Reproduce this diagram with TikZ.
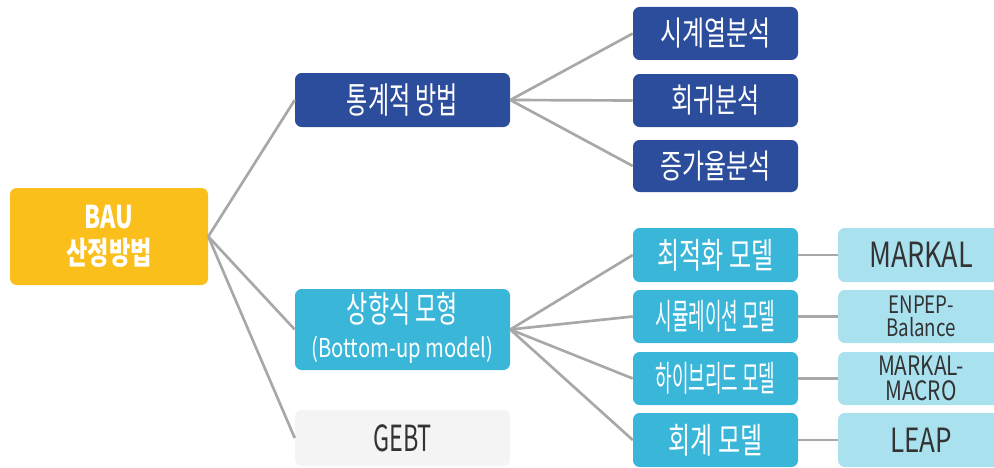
\documentclass[tikz,border=0pt]{standalone}
\usepackage{fontspec}
\setmainfont{Noto Sans CJK KR}
\newfontfamily\krA[FakeStretch=0.72]{Noto Sans CJK KR}
\newfontfamily\krB[FakeStretch=0.64]{Noto Sans CJK KR}
\newfontfamily\krC[FakeStretch=0.68]{Noto Sans CJK KR}
\newfontfamily\krD[FakeStretch=0.51]{Noto Sans CJK KR}
\newfontfamily\krE[FakeStretch=0.74]{Noto Sans CJK KR}
\newfontfamily\latA[FakeStretch=0.78]{Noto Sans CJK KR}
\newfontfamily\latB[FakeStretch=0.65]{Noto Sans CJK KR}
\definecolor{cyel}{HTML}{FBBF1C}
\definecolor{cdark}{HTML}{2C4D9B}
\definecolor{cmid}{HTML}{3AB6D9}
\definecolor{clight}{HTML}{A9E1EF}
\definecolor{cgray}{HTML}{F4F4F4}
\definecolor{cline}{HTML}{A8A8A8}
\definecolor{ctext}{HTML}{333333}
\tikzset{
  box/.style={rounded corners=5pt, inner sep=0pt, align=center},
  darkbox/.style={box, fill=cdark, text=white},
  midbox/.style={box, fill=cmid, text=white},
  lightbox/.style={box, fill=clight, text=ctext},
  lbl/.style={inner sep=0pt, text=white},
  conn/.style={draw=cline, line width=2pt},
}
\begin{document}
\begin{tikzpicture}[x=0.75pt,y=-0.75pt]
\useasboundingbox (0,0) rectangle (994,467);
% root
\node[box, fill=cyel, text=white, minimum width=148.5pt, minimum height=72.75pt,
  font=\krE\bfseries\fontsize{23.5pt}{27pt}\selectfont] (bau) at (109,236.5) {BAU\\산정방법};
% level 1
\node[darkbox, minimum width=161.25pt, minimum height=40.5pt,
  font=\krB\fontsize{27pt}{29pt}\selectfont] (stat) at (402.5,100) {통계적 방법};
\node[midbox, minimum width=161.25pt, minimum height=60.75pt] (bu) at (402.5,329.5) {};
\node[lbl, font=\krB\fontsize{27pt}{29pt}\selectfont] (bu1) at (402.5,309) {상향식 모형};
\node[lbl, font=\latA\fontsize{19.5pt}{21pt}\selectfont] (bu2) at (402.5,350) {(Bottom-up model)};
\node[box, fill=cgray, text=ctext, minimum width=161.25pt, minimum height=42pt,
  font=\latB\fontsize{27pt}{29pt}\selectfont] (gebt) at (402.5,438) {GEBT};
% level 2 (statistical)
\node[darkbox, minimum width=123.75pt, minimum height=39.75pt,
  font=\krA\fontsize{25pt}{27pt}\selectfont] (ts) at (715.5,33.5) {시계열분석};
\node[darkbox, minimum width=123.75pt, minimum height=39.75pt,
  font=\krA\fontsize{25pt}{27pt}\selectfont] (reg) at (715.5,100.5) {회귀분석};
\node[darkbox, minimum width=123.75pt, minimum height=39pt,
  font=\krA\fontsize{25pt}{27pt}\selectfont] (gr) at (715.5,166) {증가율분석};
% level 2 (bottom-up)
\node[midbox, minimum width=123.75pt, minimum height=40.5pt,
  font=\krC\fontsize{26.5pt}{28pt}\selectfont] (opt) at (715.5,255) {최적화 모델};
\node[midbox, minimum width=123.75pt, minimum height=39.75pt,
  font=\krD\fontsize{26.5pt}{28pt}\selectfont] (sim) at (715.5,316.5) {시뮬레이션 모델};
\node[midbox, minimum width=123.75pt, minimum height=39.75pt,
  font=\krD\fontsize{26.5pt}{28pt}\selectfont] (hyb) at (715.5,378.5) {하이브리드 모델};
\node[midbox, minimum width=123.75pt, minimum height=40.5pt,
  font=\krC\fontsize{26.5pt}{28pt}\selectfont] (acc) at (715.5,440) {회계 모델};
% level 3
\node[lightbox, minimum width=124.5pt, minimum height=40.5pt,
  font=\latA\fontsize{26pt}{28pt}\selectfont] (markal) at (921,255) {MARKAL};
\node[lightbox, minimum width=124.5pt, minimum height=39.75pt,
  font=\latA\fontsize{18pt}{17.5pt}\selectfont] (enpep) at (921,316.5) {ENPEP-\\Balance};
\node[lightbox, minimum width=124.5pt, minimum height=39.75pt,
  font=\latA\fontsize{20pt}{19pt}\selectfont] (mm) at (921,378.5) {MARKAL-\\MACRO};
\node[lightbox, minimum width=124.5pt, minimum height=40.5pt,
  font=\latA\fontsize{25pt}{27pt}\selectfont] (leap) at (921,440) {LEAP};
% connectors
\draw[conn] (bau.east) -- (stat.west);
\draw[conn] (bau.east) -- (bu.west);
\draw[conn] (bau.east) -- (gebt.west);
\draw[conn] (stat.east) -- (ts.west);
\draw[conn] (stat.east) -- (reg.west);
\draw[conn] (stat.east) -- (gr.west);
\draw[conn] (bu.east) -- (opt.west);
\draw[conn] (bu.east) -- (sim.west);
\draw[conn] (bu.east) -- (hyb.west);
\draw[conn] (bu.east) -- (acc.west);
\draw[conn] (opt.east) -- (markal.west);
\draw[conn] (sim.east) -- (enpep.west);
\draw[conn] (hyb.east) -- (mm.west);
\draw[conn] (acc.east) -- (leap.west);
\end{tikzpicture}
\end{document}
